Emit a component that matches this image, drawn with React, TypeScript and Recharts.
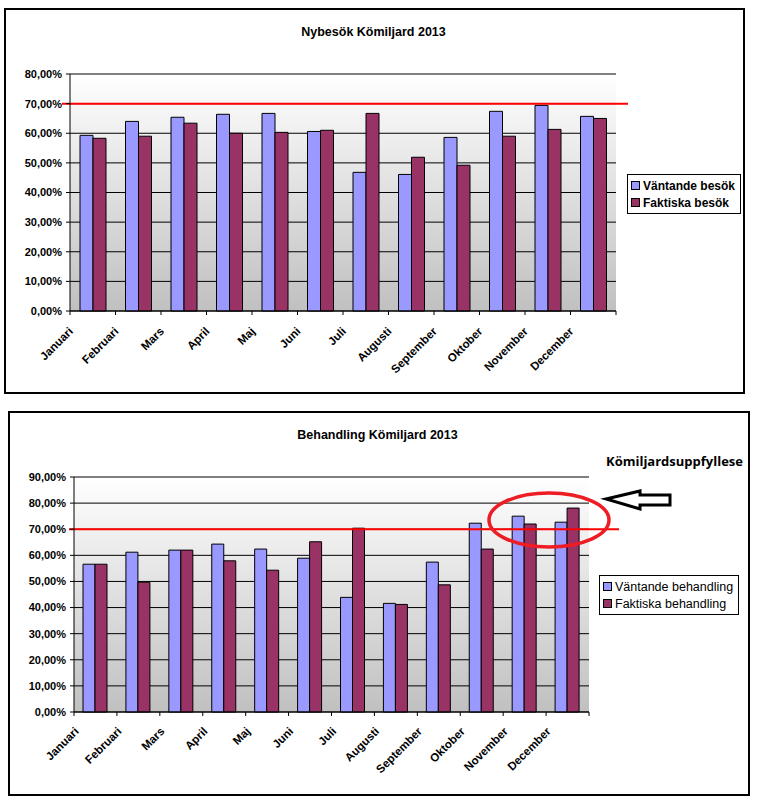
import React from 'react';
import {
  BarChart,
  Bar,
  XAxis,
  YAxis,
  CartesianGrid,
  ReferenceLine,
  Legend,
} from 'recharts';

const months = [
  'Januari', 'Februari', 'Mars', 'April', 'Maj', 'Juni',
  'Juli', 'Augusti', 'September', 'Oktober', 'November', 'December',
];

// Nybesök (procent)
const nybesokVantande = [59.3, 64.0, 65.4, 66.4, 66.7, 60.6, 46.8, 46.1, 58.6, 67.4, 69.4, 65.7];
const nybesokFaktiska = [58.3, 59.0, 63.4, 60.0, 60.3, 61.0, 66.7, 51.9, 49.2, 59.0, 61.3, 65.0];

// Behandling (procent)
const behandlingVantande = [56.6, 61.2, 62.0, 64.3, 62.4, 58.9, 43.9, 41.6, 57.4, 72.3, 75.0, 72.7];
const behandlingFaktiska = [56.6, 49.7, 62.0, 57.9, 54.3, 65.2, 70.4, 41.2, 48.7, 62.4, 72.0, 78.1];

const nybesokTicks = [0, 10, 20, 30, 40, 50, 60, 70, 80];
const behandlingTicks = [0, 10, 20, 30, 40, 50, 60, 70, 80, 90];
const komiljard = 70;

const nybesokData = months.map((m, i) => ({
  month: m,
  vantande: nybesokVantande[i],
  faktiska: nybesokFaktiska[i],
}));

const behandlingData = months.map((m, i) => ({
  month: m,
  vantande: behandlingVantande[i],
  faktiska: behandlingFaktiska[i],
}));

const FONT = "'Liberation Sans', Arial, sans-serif";
const BLUE = '#9999ff';
const PLUM = '#993366';

const pct = (v: number) => `${v.toFixed(2).replace('.', ',')}%`;

const MonthTick = (props: any) => {
  const { x, y, payload, index, labelDx, labelDy } = props;
  const half = payload.offset || 0;
  const lx = x + labelDx;
  const ly = y + labelDy;
  return (
    <g>
      <line x1={x - half} y1={y} x2={x - half} y2={y + 4} stroke="#000" />
      {index === months.length - 1 && (
        <line x1={x + half} y1={y} x2={x + half} y2={y + 4} stroke="#000" />
      )}
      <text
        x={lx}
        y={ly}
        transform={`rotate(-45 ${lx} ${ly})`}
        textAnchor="end"
        fontFamily={FONT}
        fontSize={11.5}
        fontWeight="bold"
        fill="#000"
      >
        {payload.value}
      </text>
    </g>
  );
};

const LegendBox = (props: any) => {
  const { payload, bold, fontSize, order } = props;
  const items = [...(payload || [])].sort(
    (a: any, b: any) => order.indexOf(a.value) - order.indexOf(b.value)
  );
  return (
    <div
      style={{
        border: '1px solid #000',
        background: '#fff',
        padding: '2px 5px 2px 3px',
        fontFamily: FONT,
        fontSize,
        fontWeight: bold ? 'bold' : 'normal',
        color: '#000',
        whiteSpace: 'nowrap',
      }}
    >
      {items.map((p: any) => (
        <div key={p.value} style={{ display: 'flex', alignItems: 'center', height: 17 }}>
          <span
            style={{
              display: 'inline-block',
              width: 7,
              height: 7,
              background: p.color,
              border: '1px solid #000',
              marginRight: 3,
            }}
          />
          {p.value}
        </div>
      ))}
    </div>
  );
};

const redLine = (ext: [number, number]) => (props: any) => (
  <line
    x1={props.x1 - ext[0]}
    y1={props.y1}
    x2={props.x2 + ext[1]}
    y2={props.y2}
    stroke="#ff0000"
    strokeWidth={2}
  />
);

interface PanelProps {
  data: { month: string; vantande: number; faktiska: number }[];
  ticks: number[];
  max: number;
  width: number;
  height: number;
  margin: { top: number; right: number; bottom: number; left: number };
  yWidth: number;
  barSize: number;
  gradient: string;
  names: [string, string];
  legendPos: { left: number; top: number };
  legendBold: boolean;
  legendFont: number;
  lineExt: [number, number];
  labelDx: number;
  labelDy: number;
}

function Panel(p: PanelProps) {
  return (
    <BarChart
      width={p.width}
      height={p.height}
      data={p.data}
      margin={p.margin}
      barGap={0}
      barSize={p.barSize}
    >
      <CartesianGrid
        horizontal={true}
        vertical={false}
        stroke="#000"
        fill={`url(#${p.gradient})`}
        fillOpacity={1}
      />
      <XAxis
        dataKey="month"
        interval={0}
        height={60}
        tickSize={0}
        tickMargin={0}
        axisLine={{ stroke: '#000' }}
        tickLine={false}
        tick={<MonthTick labelDx={p.labelDx} labelDy={p.labelDy} />}
      />
      <XAxis
        xAxisId="top"
        orientation="top"
        dataKey="month"
        height={0}
        tick={false}
        tickLine={false}
        axisLine={{ stroke: '#808080' }}
      />
      <YAxis
        type="number"
        domain={[0, p.max]}
        ticks={p.ticks}
        interval={0}
        width={p.yWidth}
        tickSize={4}
        tickMargin={4}
        tickFormatter={pct}
        axisLine={{ stroke: '#000' }}
        tickLine={{ stroke: '#000' }}
        tick={{ fontFamily: FONT, fontSize: 11, fontWeight: 'bold', fill: '#000' }}
      />
      <YAxis
        yAxisId="right"
        orientation="right"
        domain={[0, 1]}
        width={0}
        tick={false}
        tickLine={false}
        axisLine={{ stroke: '#808080' }}
      />
      <Legend
        layout="vertical"
        align="center"
        verticalAlign="middle"
        wrapperStyle={{ left: p.legendPos.left, top: p.legendPos.top, width: 'auto' }}
        content={<LegendBox bold={p.legendBold} fontSize={p.legendFont} order={p.names} />}
      />
      <Bar
        dataKey="vantande"
        name={p.names[0]}
        fill={BLUE}
        stroke="#000"
        strokeWidth={1}
        isAnimationActive={false}
      />
      <Bar
        dataKey="faktiska"
        name={p.names[1]}
        fill={PLUM}
        stroke="#000"
        strokeWidth={1}
        isAnimationActive={false}
      />
      <ReferenceLine y={komiljard} shape={redLine(p.lineExt)} />
    </BarChart>
  );
}

const titleStyle: React.CSSProperties = {
  position: 'absolute',
  left: 0,
  width: 759,
  textAlign: 'center',
  fontFamily: FONT,
  fontWeight: 'bold',
  fontSize: 12.5,
  color: '#000',
};

export default function App() {
  return (
    <div
      style={{
        position: 'absolute',
        left: 0,
        top: 0,
        width: 759,
        height: 802,
        background: '#fff',
        overflow: 'hidden',
      }}
    >
      <svg width={0} height={0} style={{ position: 'absolute' }}>
        <defs>
          <linearGradient id="plotGrad1" x1="0" y1="0" x2="0" y2="1">
            <stop offset="0%" stopColor="#ffffff" />
            <stop offset="100%" stopColor="#c0c0c0" />
          </linearGradient>
          <linearGradient id="plotGrad2" x1="0" y1="0" x2="0" y2="1">
            <stop offset="0%" stopColor="#ffffff" />
            <stop offset="100%" stopColor="#c0c0c0" />
          </linearGradient>
        </defs>
      </svg>

      {/* frames */}
      <div
        style={{
          position: 'absolute',
          left: 4,
          top: 8,
          width: 741,
          height: 386,
          border: '2px solid #000',
          boxSizing: 'border-box',
        }}
      />
      <div
        style={{
          position: 'absolute',
          left: 8,
          top: 411,
          width: 742,
          height: 385,
          border: '2px solid #000',
          boxSizing: 'border-box',
        }}
      />

      <div style={{ ...titleStyle, top: 25, left: -6 }}>Nybesök Kömiljard 2013</div>
      <div style={{ ...titleStyle, top: 428, left: -2 }}>Behandling Kömiljard 2013</div>

      <div style={{ position: 'absolute', left: 0, top: 0 }}>
        <Panel
          data={nybesokData}
          ticks={nybesokTicks}
          max={80}
          width={759}
          height={400}
          margin={{ top: 74, right: 143, bottom: 29, left: 0 }}
          yWidth={70}
          barSize={13}
          gradient="plotGrad1"
          names={['Väntande besök', 'Faktiska besök']}
          legendPos={{ left: 627, top: 174 }}
          legendBold={true}
          legendFont={12}
          lineExt={[8, 12]}
          labelDx={-19}
          labelDy={21}
        />
      </div>

      <div style={{ position: 'absolute', left: 0, top: 400 }}>
        <Panel
          data={behandlingData}
          ticks={behandlingTicks}
          max={90}
          width={759}
          height={402}
          margin={{ top: 77, right: 170, bottom: 30, left: 0 }}
          yWidth={74}
          barSize={12}
          gradient="plotGrad2"
          names={['Väntande behandling', 'Faktiska behandling']}
          legendPos={{ left: 599, top: 175 }}
          legendBold={false}
          legendFont={12.5}
          lineExt={[5, 30]}
          labelDx={-16}
          labelDy={20}
        />
      </div>

      <div
        style={{
          position: 'absolute',
          left: 606,
          top: 452,
          fontFamily: "'Open Sans', sans-serif",
          fontWeight: 'bold',
          fontSize: 13,
          color: '#000',
          whiteSpace: 'nowrap',
        }}
      >
        Kömiljardsuppfyllese
      </div>

      <svg
        width={759}
        height={802}
        style={{ position: 'absolute', left: 0, top: 0, pointerEvents: 'none' }}
      >
        <ellipse cx={549} cy={520} rx={60} ry={27} fill="none" stroke="#ee1c24" strokeWidth={3.5} />
        <polygon
          points="606,499 640,491 640,495 670,495 670,505 640,505 640,509"
          fill="#fff"
          stroke="#000"
          strokeWidth={3}
          strokeLinejoin="miter"
        />
      </svg>
    </div>
  );
}
